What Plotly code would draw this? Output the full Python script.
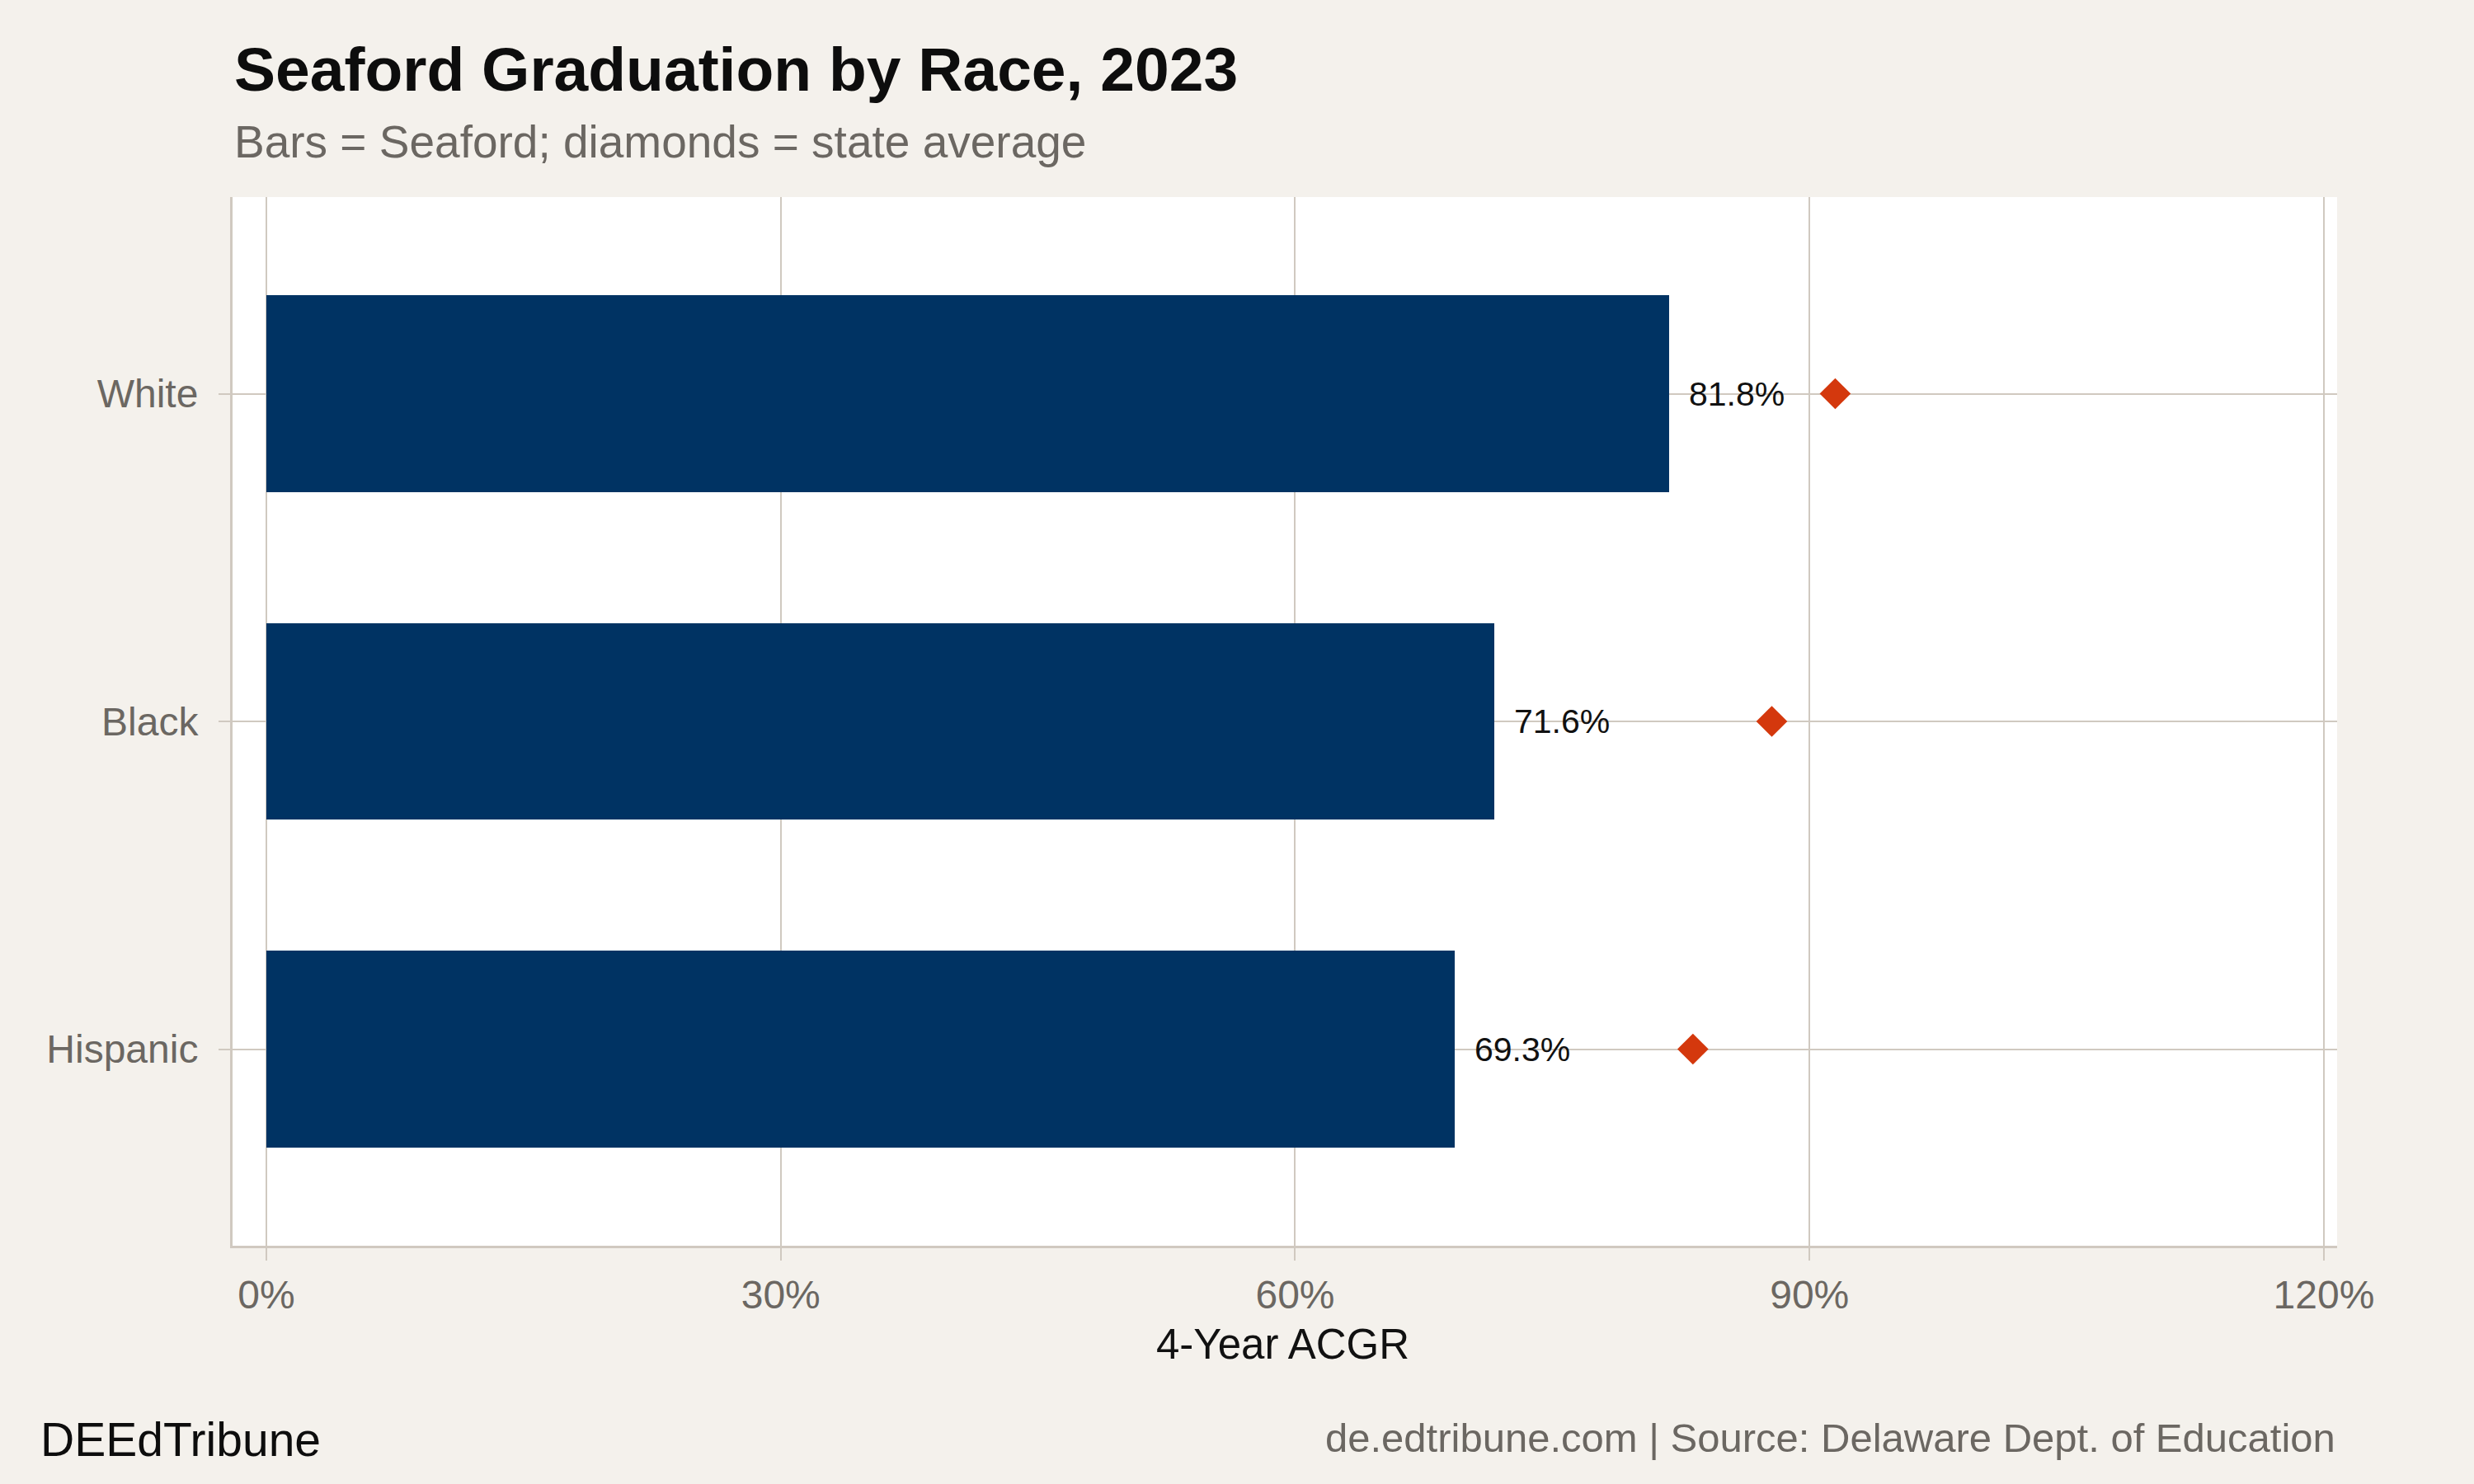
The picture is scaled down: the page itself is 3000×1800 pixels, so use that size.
import plotly.graph_objects as go

categories = ["Hispanic", "Black", "White"]
seaford = [69.3, 71.6, 81.8]
state_avg = [83.2, 87.8, 91.5]
tick_vals = [0, 30, 60, 90, 120]
tick_text = ["0%", "30%", "60%", "90%", "120%"]

BG = "#f4f1ec"
GRID = "#d0c9c0"
BAR = "#003363"
DIAM = "#d4380d"
GRAYTXT = "#6b6762"
FONT = "Liberation Sans, Arial, Helvetica, sans-serif"

fig = go.Figure()
fig.add_trace(go.Bar(
    y=categories, x=seaford, orientation="h", width=0.6,
    marker=dict(color=BAR, line=dict(width=0)), hoverinfo="skip", showlegend=False,
))
fig.add_trace(go.Scatter(
    y=categories, x=state_avg, mode="markers",
    marker=dict(symbol="diamond", size=29, color=DIAM, line=dict(width=0)),
    hoverinfo="skip", showlegend=False,
))

annotations = []
for c, v in zip(categories, seaford):
    annotations.append(dict(
        x=v, y=c, xref="x", yref="y", text=f"{v:.1f}%", showarrow=False,
        xanchor="left", yanchor="middle", xshift=22,
        font=dict(family=FONT, size=41, color="#111111"),
    ))

annotations += [
    dict(x=0, y=1.1215, xref="paper", yref="paper", text="<b>Seaford Graduation by Race, 2023</b>",
         showarrow=False, xanchor="left", yanchor="middle",
         font=dict(family=FONT, size=75, color="#0d0d0d")),
    dict(x=0, y=1.0527, xref="paper", yref="paper", text="Bars = Seaford; diamonds = state average",
         showarrow=False, xanchor="left", yanchor="middle",
         font=dict(family=FONT, size=55, color=GRAYTXT)),
    dict(x=0.499, y=-0.0943, xref="paper", yref="paper", text="4-Year ACGR",
         showarrow=False, xanchor="center", yanchor="middle",
         font=dict(family=FONT, size=51, color="#111111")),
    dict(x=-0.0921, y=-0.1847, xref="paper", yref="paper", text="DEEdTribune",
         showarrow=False, xanchor="left", yanchor="middle",
         font=dict(family=FONT, size=57, color="#0d0d0d")),
    dict(x=1.0, y=-0.1832, xref="paper", yref="paper",
         text="de.edtribune.com | Source: Delaware Dept. of Education",
         showarrow=False, xanchor="right", yanchor="middle",
         font=dict(family=FONT, size=49, color=GRAYTXT)),
]

fig.update_layout(
    width=3000, height=1800,
    margin=dict(l=282, r=166, t=239, b=289, pad=0),
    paper_bgcolor=BG, plot_bgcolor="white",
    font=dict(family=FONT),
    annotations=annotations,
    bargap=0,
)
fig.update_xaxes(
    range=[-1.97, 120.77], tickvals=tick_vals, ticktext=tick_text,
    showgrid=True, gridcolor=GRID, gridwidth=2, zeroline=False,
    showline=True, linecolor=GRID, linewidth=3,
    ticks="outside", ticklen=15, tickwidth=2, tickcolor=GRID,
    tickfont=dict(family=FONT, size=48, color=GRAYTXT),
)
fig.update_yaxes(
    type="category", categoryorder="array", categoryarray=categories,
    range=[-0.6, 2.6],
    showgrid=True, gridcolor=GRID, gridwidth=2, zeroline=False,
    showline=True, linecolor=GRID, linewidth=3,
    ticks="outside", ticklen=14, tickwidth=2, tickcolor=GRID,
    ticklabelstandoff=15,
    tickfont=dict(family=FONT, size=48, color=GRAYTXT),
)

fig.write_html("out.html")
